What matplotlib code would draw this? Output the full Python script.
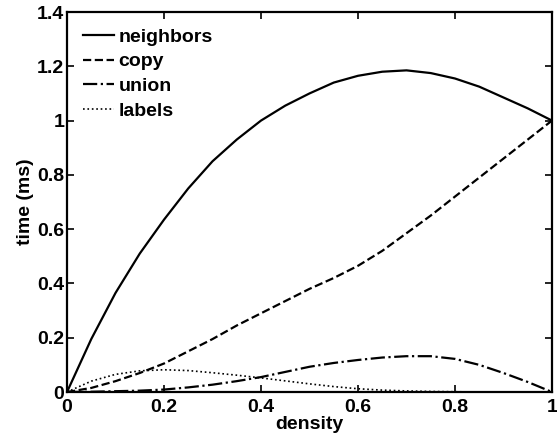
import numpy as np
import matplotlib.pyplot as plt

plt.rcParams['font.family'] = ['Liberation Sans', 'DejaVu Sans']
plt.rcParams['font.weight'] = 'bold'
plt.rcParams['font.size'] = 14

density = [0.0, 0.05, 0.1, 0.15, 0.2, 0.25, 0.3, 0.35, 0.4, 0.45, 0.5,
           0.55, 0.6, 0.65, 0.7, 0.75, 0.8, 0.85, 0.9, 0.95, 1.0]
neighbors = [0.0, 0.195, 0.365, 0.51, 0.635, 0.75, 0.85, 0.93, 1.0, 1.055, 1.10,
             1.14, 1.165, 1.18, 1.185, 1.175, 1.155, 1.125, 1.085, 1.045, 1.0]
copy = [0.0, 0.015, 0.04, 0.07, 0.105, 0.15, 0.195, 0.245, 0.29, 0.335, 0.38,
        0.42, 0.465, 0.52, 0.585, 0.65, 0.72, 0.79, 0.86, 0.93, 1.0]
union = [0.0, 0.001, 0.003, 0.005, 0.009, 0.017, 0.027, 0.04, 0.055, 0.074, 0.093,
         0.107, 0.118, 0.127, 0.132, 0.132, 0.122, 0.10, 0.07, 0.037, 0.0]
labels = [0.0, 0.04, 0.065, 0.078, 0.082, 0.079, 0.071, 0.062, 0.052, 0.041, 0.03,
          0.02, 0.012, 0.007, 0.004, 0.002, 0.001, 0.0, 0.0, 0.0, 0.0]

fig = plt.figure(figsize=(5.57, 4.38), dpi=100)
ax = fig.add_axes([0.1203, 0.105, 0.8707, 0.8676])

ax.plot(density, neighbors, color='black', linestyle='-', linewidth=1.6, label='neighbors')
ax.plot(density, copy, color='black', linestyle='--', linewidth=1.6, label='copy')
ax.plot(density, union, color='black', linestyle='-.', linewidth=1.6, label='union')
ax.plot(density, labels, color='black', linestyle=':', linewidth=1.2, label='labels')

ax.set_xlim(0, 1)
ax.set_ylim(0, 1.4)
ax.set_xticks([0, 0.2, 0.4, 0.6, 0.8, 1])
ax.set_xticklabels(['0', '0.2', '0.4', '0.6', '0.8', '1'])
ax.set_yticks([0, 0.2, 0.4, 0.6, 0.8, 1, 1.2, 1.4])
ax.set_yticklabels(['0', '0.2', '0.4', '0.6', '0.8', '1', '1.2', '1.4'])
ax.tick_params(direction='in', top=True, right=True, length=5, width=1.2)
ax.tick_params(axis='x', pad=5)
ax.tick_params(axis='y', pad=2)
for s in ax.spines.values():
    s.set_linewidth(1.6)

ax.set_xlabel('density', fontweight='bold', labelpad=0)
ax.set_ylabel('time (ms)', fontweight='bold', labelpad=2)

ax.legend(loc='upper left', frameon=False, handlelength=1.57, handletextpad=0.25,
          labelspacing=0.36, borderaxespad=0.5, borderpad=0.33)

fig.savefig('out.png', dpi=100)
